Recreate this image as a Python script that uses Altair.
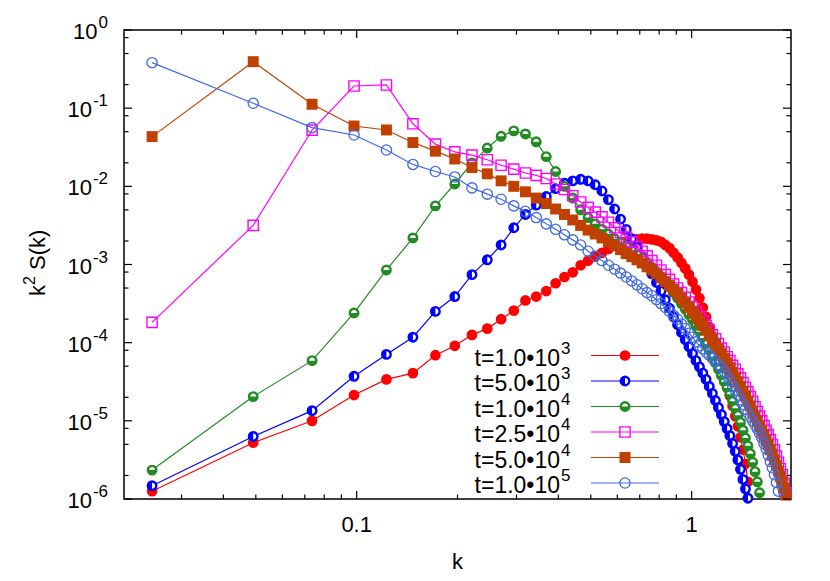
import altair as alt
import pandas as pd

# wave numbers k (x positions of the points)
k_values = [
    0.0245, 0.0491, 0.0736, 0.0982, 0.1227, 0.1472, 0.1718, 0.1963, 0.2209, 0.2454,
    0.2699, 0.2945, 0.3190, 0.3436, 0.3681, 0.3926, 0.4172, 0.4417, 0.4663, 0.4908,
    0.5153, 0.5399, 0.5644, 0.5890, 0.6135, 0.6380, 0.6626, 0.6871, 0.7117, 0.7362,
    0.7607, 0.7853, 0.8098, 0.8344, 0.8589, 0.8834, 0.9080, 0.9325, 0.9571, 0.9816,
    1.0061, 1.0307, 1.0552, 1.0798, 1.1043, 1.1288, 1.1534, 1.1779, 1.2025, 1.2270,
    1.2515, 1.2761, 1.3006, 1.3252, 1.3497, 1.3742, 1.3988, 1.4233, 1.4479, 1.4724,
    1.4969, 1.5215, 1.5460, 1.5706, 1.5951, 1.6196, 1.6442, 1.6687, 1.6933, 1.7178,
    1.7423, 1.7669, 1.7914, 1.8160, 1.8405, 1.8650, 1.8896, 1.9141, 1.9387,
]

# log10 of k^2 S(k)
t1e3_log10 = [
    -5.90, -5.28, -5.00, -4.67, -4.47, -4.39, -4.16, -4.04, -3.90, -3.82,
    -3.70, -3.59, -3.46, -3.41, -3.34, -3.24, -3.16, -3.10, -3.01, -2.95,
    -2.90, -2.85, -2.80, -2.76, -2.73, -2.71, -2.69, -2.68, -2.67, -2.67,
    -2.68, -2.69, -2.71, -2.75, -2.79, -2.85, -2.91, -2.98, -3.05, -3.13,
    -3.22, -3.32, -3.43, -3.55, -3.67, -3.80, -3.92, -4.05, -4.17, -4.30,
    -4.43, -4.56, -4.68, -4.81, -4.94, -5.07, -5.21, -5.37, -5.55, -5.78,
    -6.05,
]
t5e3_log10 = [
    -5.83, -5.20, -4.87, -4.43, -4.15, -3.93, -3.60, -3.41, -3.13, -2.94,
    -2.75, -2.53, -2.36, -2.24, -2.13, -2.03, -1.96, -1.93, -1.91, -1.93,
    -1.98, -2.06, -2.17, -2.29, -2.42, -2.55, -2.67, -2.78, -2.90, -3.01,
    -3.12, -3.23, -3.34, -3.45, -3.56, -3.67, -3.77, -3.87, -3.96, -4.05,
    -4.14, -4.23, -4.31, -4.39, -4.47, -4.56, -4.65, -4.74, -4.83, -4.92,
    -5.01, -5.10, -5.19, -5.29, -5.39, -5.50, -5.62, -5.75, -5.87, -5.99,
    -6.12,
]
t1e4_log10 = [
    -5.63, -4.69, -4.23, -3.62, -3.07, -2.66, -2.25, -1.97, -1.70, -1.51,
    -1.36, -1.29, -1.33, -1.43, -1.62, -1.81, -2.00, -2.15, -2.30, -2.40,
    -2.48, -2.55, -2.61, -2.67, -2.72, -2.77, -2.82, -2.87, -2.92, -2.98,
    -3.04, -3.10, -3.16, -3.22, -3.29, -3.36, -3.43, -3.50, -3.57, -3.64,
    -3.71, -3.78, -3.86, -3.94, -4.02, -4.10, -4.18, -4.26, -4.34, -4.42,
    -4.50, -4.58, -4.66, -4.75, -4.84, -4.93, -5.02, -5.12, -5.22, -5.32,
    -5.42, -5.53, -5.65, -5.78, -5.92, -6.07,
]
t25e4_log10 = [
    -3.74, -2.50, -1.28, -0.716, -0.703, -1.20, -1.46, -1.56, -1.60, -1.66,
    -1.73, -1.78, -1.83, -1.86, -1.90, -1.97, -2.04, -2.12, -2.20, -2.27,
    -2.33, -2.39, -2.46, -2.53, -2.59, -2.65, -2.71, -2.77, -2.83, -2.89,
    -2.95, -3.01, -3.07, -3.13, -3.19, -3.25, -3.30, -3.36, -3.42, -3.48,
    -3.54, -3.60, -3.66, -3.72, -3.78, -3.84, -3.90, -3.95, -4.01, -4.07,
    -4.12, -4.18, -4.23, -4.29, -4.34, -4.40, -4.45, -4.51, -4.57, -4.63,
    -4.69, -4.75, -4.82, -4.88, -4.94, -5.00, -5.06, -5.12, -5.18, -5.24,
    -5.30, -5.37, -5.45, -5.53, -5.61, -5.69, -5.80, -5.92, -6.05,
]
t5e4_log10 = [
    -1.364, -0.405, -0.950, -1.228, -1.279, -1.44, -1.55, -1.65, -1.76, -1.84,
    -1.93, -2.00, -2.07, -2.15, -2.22, -2.29, -2.36, -2.43, -2.50, -2.56,
    -2.61, -2.66, -2.71, -2.76, -2.81, -2.86, -2.90, -2.94, -2.98, -3.03,
    -3.07, -3.12, -3.17, -3.22, -3.27, -3.32, -3.37, -3.43, -3.49, -3.55,
    -3.60, -3.66, -3.72, -3.78, -3.84, -3.90, -3.96, -4.02, -4.08, -4.14,
    -4.20, -4.26, -4.32, -4.38, -4.44, -4.50, -4.56, -4.62, -4.68, -4.75,
    -4.81, -4.88, -4.95, -5.01, -5.07, -5.13, -5.19, -5.25, -5.31, -5.37,
    -5.43, -5.50, -5.57, -5.64, -5.71, -5.78, -5.86, -5.95, -6.05,
]
t1e5_log10 = [
    -0.418, -0.937, -1.249, -1.343, -1.535, -1.72, -1.81, -1.88, -2.02, -2.10,
    -2.165, -2.25, -2.32, -2.40, -2.48, -2.55, -2.62, -2.685, -2.75, -2.83,
    -2.89, -2.95, -3.01, -3.06, -3.11, -3.16, -3.21, -3.26, -3.31, -3.36,
    -3.40, -3.45, -3.50, -3.55, -3.60, -3.65, -3.70, -3.76, -3.82, -3.88,
    -3.93, -3.99, -4.04, -4.08, -4.12, -4.16, -4.20, -4.24, -4.28, -4.32,
    -4.37, -4.43, -4.49, -4.55, -4.61, -4.67, -4.73, -4.79, -4.85, -4.90,
    -4.95, -5.00, -5.05, -5.10, -5.16, -5.22, -5.29, -5.36, -5.44, -5.52,
    -5.60, -5.69, -5.79, -5.90, -6.02,
]

series_values = [t1e3_log10, t5e3_log10, t1e4_log10, t25e4_log10, t5e4_log10, t1e5_log10]
legend_base = ["t=1.0\u202210", "t=5.0\u202210", "t=1.0\u202210",
               "t=2.5\u202210", "t=5.0\u202210", "t=1.0\u202210"]
legend_exp = ["3", "3", "4", "4", "4", "5"]
colors = ["#ff0000", "#0000ff", "#228b22", "#ff00ff", "#c04000", "#4169e1"]

x_major_ticks = [0.1, 1.0]
x_minor_ticks = [0.03, 0.04, 0.05, 0.06, 0.07, 0.08, 0.09,
                 0.2, 0.3, 0.4, 0.5, 0.6, 0.7, 0.8, 0.9]
x_tick_labels = ["0.1", "1"]
y_decades = [0, -1, -2, -3, -4, -5, -6]
y_minor_offsets = [0.30103, 0.69897, 0.90309]  # log10 of 2, 5, 8

W, H = 667, 469
FONT = "Liberation Sans"
FS = 22
FS_LEG = 23
FS_SUP = 17

xscale = alt.Scale(type="log", domain=[0.0202, 1.98], nice=False)
yscale = alt.Scale(type="linear", domain=[-6, 0], nice=False, zero=False)
X = alt.X("k:Q", scale=xscale, axis=None)
Y = alt.Y("v:Q", scale=yscale, axis=None)

HALF_LEFT = "M0,-1A1,1 0 0,0 0,1Z"
HALF_BOTTOM = "M-1,0A1,1 0 0,0 1,0Z"


def symbol_layers(i, data, enc):
    c = colors[i]
    base = alt.Chart(data)
    if i == 0:
        return [base.mark_point(shape="circle", filled=True, color=c, size=115,
                                opacity=1).encode(**enc)]
    if i in (1, 2):
        half = HALF_LEFT if i == 1 else HALF_BOTTOM
        return [
            base.mark_point(shape="circle", filled=True, color="white", stroke=c,
                            strokeWidth=2.4, size=72, opacity=1).encode(**enc),
            base.mark_point(shape=half, filled=True, color=c, size=72,
                            opacity=1).encode(**enc),
        ]
    if i == 3:
        return [base.mark_point(shape="square", filled=False, color=c, strokeWidth=1.4,
                                size=105, opacity=1).encode(**enc)]
    if i == 4:
        return [base.mark_point(shape="square", filled=True, color=c, size=120,
                                opacity=1).encode(**enc)]
    return [base.mark_point(shape="circle", filled=False, color=c, strokeWidth=1.3,
                            size=105, opacity=1).encode(**enc)]


layers = []

# data series
for i, vals in enumerate(series_values):
    df = pd.DataFrame({"k": k_values[:len(vals)], "v": vals})
    layers.append(alt.Chart(df).mark_line(color=colors[i], strokeWidth=1.2, clip=True)
                  .encode(x=X, y=Y))
    layers += symbol_layers(i, df[df["v"] >= -6], dict(x=X, y=Y))

# ticks (inward, mirrored)
for vals, L in ((x_major_ticks, 8), (x_minor_ticks, 4.5)):
    d = pd.DataFrame({"k": vals})
    layers.append(alt.Chart(d).mark_rule(color="black", strokeWidth=1.2)
                  .encode(x=X, y=alt.value(H), y2=alt.value(H - L)))
    layers.append(alt.Chart(d).mark_rule(color="black", strokeWidth=1.2)
                  .encode(x=X, y=alt.value(0), y2=alt.value(L)))

y_minor = [e + o for e in y_decades[1:] for o in y_minor_offsets]
for vals, L in ((y_decades, 8), (y_minor, 4.5)):
    d = pd.DataFrame({"v": vals})
    layers.append(alt.Chart(d).mark_rule(color="black", strokeWidth=1.2)
                  .encode(y=Y, x=alt.value(0), x2=alt.value(L)))
    layers.append(alt.Chart(d).mark_rule(color="black", strokeWidth=1.2)
                  .encode(y=Y, x=alt.value(W - L), x2=alt.value(W)))

# y tick labels 10^n
R = -16
w_zero = 0.556 * FS_SUP
w_neg = (0.333 + 0.556) * FS_SUP
d0 = pd.DataFrame({"v": [0]})
dn = pd.DataFrame({"v": y_decades[1:]})
layers.append(alt.Chart(d0).mark_text(text="10", font=FONT, fontSize=FS, align="right",
                                      baseline="middle", dy=2)
              .encode(y=Y, x=alt.value(R - w_zero - 1)))
layers.append(alt.Chart(dn).mark_text(text="10", font=FONT, fontSize=FS, align="right",
                                      baseline="middle", dy=2)
              .encode(y=Y, x=alt.value(R - w_neg - 1)))
dexp = pd.DataFrame({"v": y_decades, "lab": [str(e) for e in y_decades]})
layers.append(alt.Chart(dexp).mark_text(font=FONT, fontSize=FS_SUP, align="right",
                                        baseline="middle", dy=-7)
              .encode(y=Y, x=alt.value(R), text="lab:N"))

# x tick labels
dxl = pd.DataFrame({"k": x_major_ticks, "lab": x_tick_labels})
layers.append(alt.Chart(dxl).mark_text(font=FONT, fontSize=FS, align="center",
                                       baseline="middle")
              .encode(x=X, y=alt.value(H + 26), text="lab:N"))

one = pd.DataFrame({"a": [0]})
# axis titles
layers.append(alt.Chart(one).mark_text(text="k", font=FONT, fontSize=FS, align="center",
                                       baseline="middle")
              .encode(x=alt.value(W / 2), y=alt.value(H + 63)))
YT_X, YT_Y = -86, 232
layers.append(alt.Chart(one).mark_text(text="k", font=FONT, fontSize=FS, angle=270,
                                       align="left", baseline="middle", dx=-34)
              .encode(x=alt.value(YT_X), y=alt.value(YT_Y)))
layers.append(alt.Chart(one).mark_text(text="2", font=FONT, fontSize=16, angle=270,
                                       align="left", baseline="middle", dx=-23, dy=-8)
              .encode(x=alt.value(YT_X), y=alt.value(YT_Y)))
layers.append(alt.Chart(one).mark_text(text="S(k)", font=FONT, fontSize=FS, angle=270,
                                       align="left", baseline="middle", dx=-8)
              .encode(x=alt.value(YT_X), y=alt.value(YT_Y)))

# key
for i in range(6):
    ry = 325.5 + 25.5 * i
    layers.append(alt.Chart(one).mark_rule(color=colors[i], strokeWidth=1.2)
                  .encode(x=alt.value(467), x2=alt.value(535), y=alt.value(ry)))
    layers += symbol_layers(i, one, dict(x=alt.value(501), y=alt.value(ry)))
    layers.append(alt.Chart(one).mark_text(text=legend_base[i], font=FONT, fontSize=FS_LEG,
                                           align="right", baseline="middle", dy=3)
                  .encode(x=alt.value(436), y=alt.value(ry)))
    layers.append(alt.Chart(one).mark_text(text=legend_exp[i], font=FONT, fontSize=FS_SUP,
                                           align="left", baseline="middle", dy=-7)
                  .encode(x=alt.value(437), y=alt.value(ry)))

chart = alt.layer(*layers).properties(
    width=W, height=H,
    autosize=alt.AutoSizeParams(type="none"),
    padding={"left": 116, "top": 22, "right": 31, "bottom": 76},
).configure_view(stroke="black", strokeWidth=1.5)

chart.save("out.html", embed_options={"renderer": "svg", "actions": False})
